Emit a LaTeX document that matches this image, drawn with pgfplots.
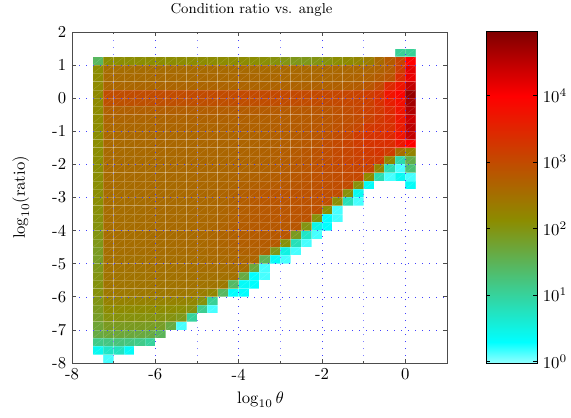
\documentclass[border=0pt]{standalone}
\usepackage{pgfplots}
\usepackage{pgfplotstable}
\pgfplotsset{compat=1.18}
\pgfdeclareplotmark{cell}{%
  \pgfpathrectangle{\pgfpoint{-3.15pt}{-2.5pt}}{\pgfpoint{6.3pt}{5pt}}\pgfusepathqfill
  \pgfsetstrokecolor{white}%
  \pgfsetstrokeopacity{0.2}%
  \pgfsetlinewidth{0.45pt}%
  \pgfpathrectangle{\pgfpoint{-3.125pt}{-2.48pt}}{\pgfpoint{6.25pt}{4.96pt}}\pgfusepathqstroke
  \pgfsetlinewidth{0.18pt}%
  \pgfpathmoveto{\pgfpoint{-3.125pt}{-2.48pt}}\pgfpathlineto{\pgfpoint{3.125pt}{2.48pt}}\pgfusepathqstroke
}
% meta = 100*log10(value); -3 = empty cell
\pgfplotstableread{
y c0 c1 c2 c3 c4 c5 c6 c7 c8 c9 c10 c11 c12 c13 c14 c15 c16 c17 c18 c19 c20 c21 c22 c23 c24 c25 c26 c27 c28 c29 c30
1.375 -3 -3 -3 -3 -3 -3 -3 -3 -3 -3 -3 -3 -3 -3 -3 -3 -3 -3 -3 -3 -3 -3 -3 -3 -3 -3 -3 -3 -3 105 105
1.125 145 212 212 212 212 213 213 213 214 214 214 214 214 214 214 212 210 205 200 195 195 200 205 212 215 222 235 260 280 310 400
0.875 212 255 255 255 256 256 256 257 257 257 257 258 258 258 258 258 259 259 260 260 260 260 261 261 262 263 265 270 280 320 420
0.625 214 258 258 259 259 259 260 260 260 260 261 261 261 261 262 262 262 263 263 263 263 264 264 265 266 268 272 278 288 340 415
0.375 216 263 263 263 264 264 264 265 265 265 265 266 266 266 267 267 267 268 268 268 269 270 271 272 274 277 285 300 345 375 445
0.125 218 297 297 298 298 298 299 299 299 300 300 300 300 300 301 301 301 302 302 302 303 303 304 305 307 310 318 332 375 395 480
-0.125 216 292 292 293 293 293 294 294 294 295 295 295 295 296 296 296 297 297 298 298 299 300 300 302 305 308 315 335 360 380 470
-0.375 214 272 272 273 273 273 274 274 275 275 275 276 276 277 277 278 278 279 280 281 283 285 287 292 298 305 315 325 345 375 460
-0.625 214 266 266 266 267 267 267 268 268 269 269 270 270 271 272 272 273 274 276 278 280 282 285 290 295 300 312 325 340 370 440
-0.875 213 263 263 264 264 264 265 265 266 266 267 267 268 269 270 271 272 274 276 278 281 284 287 292 298 305 325 330 335 365 450
-1.125 212 261 261 262 262 262 263 263 264 264 265 266 266 267 268 269 271 273 275 278 282 285 290 298 305 320 330 335 345 375 445
-1.375 212 260 260 260 261 261 262 262 263 263 264 265 265 266 267 268 270 272 275 278 283 287 297 303 310 320 330 335 340 370 400
-1.625 212 259 259 259 260 260 261 261 262 262 263 264 264 265 266 268 270 273 276 280 285 290 296 302 308 315 322 330 320 255 225
-1.875 212 258 258 258 259 259 260 260 261 262 262 263 264 265 266 268 270 273 277 281 285 290 296 302 308 313 318 320 225 90 160
-2.125 211 258 258 258 258 259 259 260 261 261 262 263 264 265 267 269 271 274 278 282 287 292 296 300 304 308 310 225 85 15 130
-2.375 211 257 257 258 258 258 259 260 260 261 262 263 264 266 268 270 273 276 280 284 288 292 295 298 302 305 215 85 15 40 15
-2.625 210 257 257 257 258 258 259 259 260 261 262 263 265 267 270 273 276 279 282 285 288 291 294 297 300 205 35 -3 -3 -3 35
-2.875 210 256 256 257 257 258 258 259 260 261 262 264 266 270 275 280 284 286 288 290 291 293 295 298 205 40 -3 -3 -3 -3 -3
-3.125 210 255 255 256 256 257 258 258 259 260 261 263 265 270 276 281 284 286 288 289 290 292 295 210 80 15 -3 -3 -3 -3 -3
-3.375 208 255 255 256 256 257 258 258 259 260 261 263 266 270 276 280 283 285 287 289 291 295 210 15 -3 -3 -3 -3 -3 -3 -3
-3.625 206 255 255 255 256 257 257 258 259 260 261 263 266 271 276 280 282 284 286 288 290 205 30 15 -3 -3 -3 -3 -3 -3 -3
-3.875 204 255 255 255 256 256 257 258 259 260 261 264 268 273 277 280 281 282 283 285 200 45 30 -3 -3 -3 -3 -3 -3 -3 -3
-4.125 201 255 255 255 255 256 257 257 258 259 261 264 268 272 276 278 280 282 285 190 70 15 -3 -3 -3 -3 -3 -3 -3 -3 -3
-4.375 196 254 254 255 255 256 256 257 258 259 260 263 267 271 274 276 278 280 205 80 15 -3 -3 -3 -3 -3 -3 -3 -3 -3 -3
-4.625 190 253 253 254 254 255 256 256 257 258 259 261 264 267 270 273 275 195 50 15 -3 -3 -3 -3 -3 -3 -3 -3 -3 -3 -3
-4.875 188 250 250 251 251 252 253 253 254 255 256 258 260 262 264 265 150 35 15 -3 -3 -3 -3 -3 -3 -3 -3 -3 -3 -3 -3
-5.125 195 248 248 249 249 250 251 251 252 253 254 255 255 256 255 170 15 -3 -3 -3 -3 -3 -3 -3 -3 -3 -3 -3 -3 -3 -3
-5.375 200 246 246 247 247 248 249 249 250 250 250 251 251 250 165 30 15 -3 -3 -3 -3 -3 -3 -3 -3 -3 -3 -3 -3 -3 -3
-5.625 203 245 245 245 246 246 247 247 248 248 247 246 240 140 35 30 -3 -3 -3 -3 -3 -3 -3 -3 -3 -3 -3 -3 -3 -3 -3
-5.875 205 240 240 240 241 241 241 242 242 240 235 225 145 30 30 -3 -3 -3 -3 -3 -3 -3 -3 -3 -3 -3 -3 -3 -3 -3 -3
-6.125 198 228 228 228 228 228 227 227 226 222 205 105 -3 -3 -3 -3 -3 -3 -3 -3 -3 -3 -3 -3 -3 -3 -3 -3 -3 -3 -3
-6.375 192 215 215 215 215 215 214 214 212 205 110 15 -3 -3 -3 -3 -3 -3 -3 -3 -3 -3 -3 -3 -3 -3 -3 -3 -3 -3 -3
-6.625 186 205 205 205 205 204 204 203 195 100 -3 -3 -3 -3 -3 -3 -3 -3 -3 -3 -3 -3 -3 -3 -3 -3 -3 -3 -3 -3 -3
-6.875 175 190 190 190 190 188 186 165 15 -3 -3 -3 -3 -3 -3 -3 -3 -3 -3 -3 -3 -3 -3 -3 -3 -3 -3 -3 -3 -3 -3
-7.125 165 172 172 170 168 165 150 -3 -3 -3 -3 -3 -3 -3 -3 -3 -3 -3 -3 -3 -3 -3 -3 -3 -3 -3 -3 -3 -3 -3 -3
-7.375 115 120 125 120 115 100 -3 -3 -3 -3 -3 -3 -3 -3 -3 -3 -3 -3 -3 -3 -3 -3 -3 -3 -3 -3 -3 -3 -3 -3 -3
-7.625 40 70 75 35 -3 -3 -3 -3 -3 -3 -3 -3 -3 -3 -3 -3 -3 -3 -3 -3 -3 -3 -3 -3 -3 -3 -3 -3 -3 -3 -3
-7.875 -3 15 -3 -3 -3 -3 -3 -3 -3 -3 -3 -3 -3 -3 -3 -3 -3 -3 -3 -3 -3 -3 -3 -3 -3 -3 -3 -3 -3 -3 -3
}\cells
\pgfplotsset{hmcolors/.style={
  colormap={hm}{rgb255(0)=(255,255,255) rgb255(3)=(140,255,255) rgb255(33)=(0,255,255) rgb255(216)=(140,140,0) rgb255(403)=(255,0,0) rgb255(499)=(128,0,0)},
  point meta min=-3, point meta max=496}}
\begin{document}
\begin{tikzpicture}
\path[use as bounding box] (0,0) rectangle (342.6pt,250.2pt);
\begin{axis}[
  at={(43.2pt,32.4pt)}, anchor=south west,
  scale only axis, width=225pt, height=198.6pt,
  xmin=-8, xmax=1, ymin=-8, ymax=2,
  axis on top,
  axis line style={black!70, line width=0.6pt},
  tick style={black!70, line width=0.4pt},
  tick align=inside, major tick length=2.4pt, minor tick length=1.4pt,
  xtick={-8,-6,-4,-2,0}, xticklabels={-8,-6,-4,-2,0},
  minor xtick={-7,-5,-3,-1},
  ytick={-8,-7,...,2}, yticklabels={-8,-7,-6,-5,-4,-3,-2,-1,0,1,2},
  grid=both,
  major grid style={blue!75, line width=0.35pt, dash pattern=on 0.6pt off 3.6pt},
  minor grid style={blue!50, line width=0.35pt, dash pattern=on 0.6pt off 3.6pt},
  title={\fontsize{8.6}{10}\selectfont Condition ratio vs. angle},
  title style={at={(0.5,1)}, yshift=-0.4pt, xshift=-4.8pt},
  xlabel={$\log_{10}\theta$}, ylabel={$\log_{10}(\mathrm{ratio})$},
  xlabel style={xshift=0.6pt},
  ylabel style={yshift=7pt},
  hmcolors,
]
\pgfplotsinvokeforeach{0,...,30}{
  \addplot[scatter, only marks, mark=cell, scatter src=explicit, forget plot, clip mode=individual]
    table[x expr={-7.375+0.25*#1}, y=y, meta=c#1] {\cells};
}
\end{axis}
\begin{axis}[
  at={(291.6pt,32.1pt)}, anchor=south west,
  scale only axis, width=30.6pt, height=198.9pt,
  xmin=0, xmax=1, ymin=-3, ymax=496,
  axis on top,
  axis line style={black, line width=0.6pt},
  tick style={black, line width=0.5pt},
  xtick=\empty,
  ytick={0,100,200,300,400},
  yticklabels={$10^0$,$10^1$,$10^2$,$10^3$,$10^4$},
  yticklabel pos=right, ytick pos=both, tick align=inside,
  major tick length=2.4pt,
  hmcolors,
]
\addplot[surf, shader=interp, mesh/rows=2, point meta=y] coordinates {
  (0,-3) (1,-3)
  (0,496) (1,496)
};
\end{axis}
\end{tikzpicture}
\end{document}
